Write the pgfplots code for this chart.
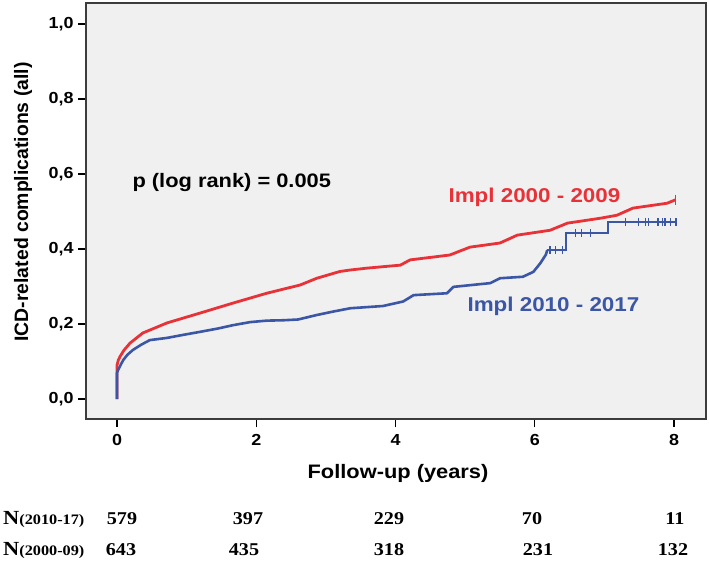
\documentclass[border=0pt]{standalone}
\usepackage{fontspec}
\setmainfont{Liberation Sans}[FakeStretch=1.12]
\newfontfamily\ylabfont{Liberation Sans}
\newfontfamily\timesf{Liberation Serif}[FakeStretch=1.12]
\usepackage{pgfplots}
\pgfplotsset{compat=1.18}
\definecolor{kmred}{RGB}{232,50,56}
\definecolor{kmblue}{RGB}{58,86,165}
\definecolor{bg}{RGB}{240,240,240}
\definecolor{frame}{RGB}{60,60,60}

\begin{document}
\begin{tikzpicture}[x=1pt,y=1pt]
\useasboundingbox (0,0) rectangle (709,563);
\begin{axis}[
  at={(86pt,144pt)}, anchor=south west,
  scale only axis, width=620pt, height=416pt,
  xmin=-0.445, xmax=8.46, ymin=-0.0533, ymax=1.056,
  axis background/.style={fill=bg},
  axis line style={frame, line width=1.2pt},
  xtick={0,2,4,6,8}, ytick={0,0.2,0.4,0.6,0.8,1},
  tick align=outside, xtick pos=left, ytick pos=left,
  major tick length=8pt,
  every tick/.style={black, line width=1.2pt},
  /pgf/number format/assume math mode=true,
  yticklabel style={/pgf/number format/.cd, fixed, fixed zerofill, precision=1, use comma, /tikz/.cd, xshift=-1pt},
  xticklabel style={yshift=-4pt},
  ticklabel style={font=\bfseries\fontsize{16}{18}\selectfont},
  clip=false,
]
\addplot[sharp plot, kmred, line width=2.8pt, line join=round] coordinates {
(0,0) (0,0.09) (0.02,0.104) (0.043,0.113) (0.1,0.13) (0.187,0.149) (0.37,0.176)
(0.72,0.203) (1.19,0.229) (1.67,0.256) (2.15,0.282) (2.63,0.304) (2.87,0.322)
(3.2,0.34) (3.35,0.344) (3.59,0.349) (4.07,0.357) (4.21,0.371) (4.78,0.384)
(5.07,0.405) (5.5,0.416) (5.75,0.437) (6.22,0.45) (6.47,0.469) (6.94,0.482)
(7.18,0.49) (7.41,0.509) (7.9,0.522) (8.02,0.531) };
\addplot[sharp plot, kmblue, line width=2.6pt, line join=round] coordinates {
(0,0) (0,0.069) (0.01,0.075) (0.05,0.09) (0.09,0.104) (0.15,0.118) (0.23,0.131)
(0.35,0.145) (0.47,0.157) (0.72,0.163) (0.95,0.171) (1.19,0.179) (1.45,0.188)
(1.67,0.197) (1.91,0.205) (2.15,0.209) (2.39,0.21) (2.6,0.212) (2.87,0.224)
(3.1,0.233) (3.35,0.242) (3.82,0.248) (4.11,0.26) (4.26,0.277) (4.74,0.282)
(4.83,0.299) (5.36,0.309) (5.5,0.322) (5.83,0.326) (5.98,0.339) (6.08,0.362)
(6.16,0.385) (6.18,0.397) };
\addplot[sharp plot, kmblue, line width=2pt] coordinates {
(6.18,0.397) (6.45,0.397) (6.45,0.443) (7.05,0.443) (7.05,0.472) (8.05,0.472) };
\addplot[only marks, mark=|, mark size=4pt, kmblue, mark options={line width=1.2pt}] coordinates {
(6.22,0.397) (6.30,0.397) (6.40,0.397)
(6.58,0.443) (6.67,0.443) (6.80,0.443)
(7.30,0.472) (7.49,0.472) (7.59,0.472) (7.63,0.472) (7.77,0.472) (7.83,0.472)
(7.87,0.472) (7.95,0.472) (8.03,0.472) };
\addplot[only marks, mark=|, mark size=5pt, kmred, mark options={line width=1.4pt}] coordinates {(8.02,0.531)};
\end{axis}
\node[anchor=west, font=\bfseries\fontsize{19.5}{22}\selectfont] at (129,380) {p (log rank) = 0.005};
\node[anchor=west, text=kmred, font=\bfseries\fontsize{20}{22}\selectfont] at (445,366) {Impl 2000 - 2009};
\node[anchor=west, text=kmblue, font=\bfseries\fontsize{20}{22}\selectfont] at (464,257) {Impl 2010 - 2017};
\node[rotate=90, font=\ylabfont\bfseries\fontsize{19.4}{22}\selectfont] at (23,361) {ICD-related complications (all)};
\node[font=\bfseries\fontsize{19.5}{22}\selectfont] at (398,90) {Follow-up (years)};
\node[anchor=west, inner sep=0pt, font=\timesf\bfseries] at (3,44) {\fontsize{20}{22}\selectfont N\fontsize{14.5}{16}\selectfont(2010-17)};
\node[anchor=west, inner sep=0pt, font=\timesf\bfseries] at (3,13) {\fontsize{20}{22}\selectfont N\fontsize{14.5}{16}\selectfont(2000-09)};
\foreach \x/\v in {122/579, 248/397, 389/229, 532/70, 675/11}
  \node[font=\timesf\bfseries\fontsize{18}{20}\selectfont] at (\x,44) {\v};
\foreach \x/\v in {121/643, 244/435, 389/318, 538/231, 673/132}
  \node[font=\timesf\bfseries\fontsize{18}{20}\selectfont] at (\x,13) {\v};
\end{tikzpicture}
\end{document}
